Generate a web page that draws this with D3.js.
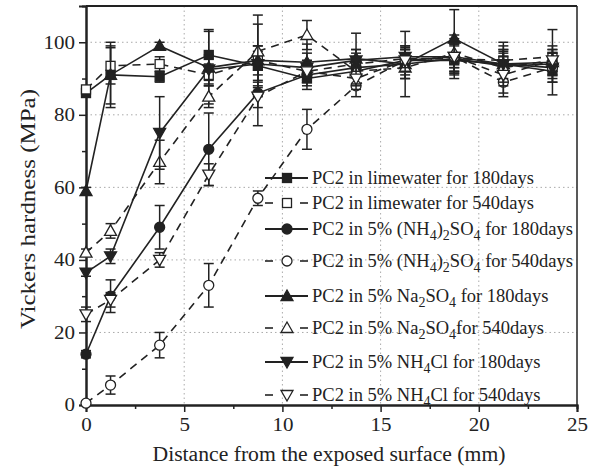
<!DOCTYPE html>
<html><head><meta charset="utf-8">
<script src="https://cdn.jsdelivr.net/npm/d3@7"></script>
<style>body{margin:0;background:#fff}svg{display:block}text{font-family:"Liberation Serif","Times New Roman",serif;fill:#222}</style>
</head><body><svg id="c" width="596" height="468"></svg>
<script>
const xVals = [0, 1.25, 3.75, 6.25, 8.75, 11.25, 13.75, 16.25, 18.75, 21.25, 23.75];
const lime180 = [86, 91, 90.5, 96.5, 93.5, 90, 92, 95, 95, 94, 92];
const lime180Err = [1, 9, 1.5, 7, 4, 3, 4, 3, 5, 5, 3];
const lime540 = [87, 93.5, 94, 91, 95, 92, 94, 95.5, 95.5, 95, 96];
const lime540Err = [1, 5, 2, 3, 4, 3, 3, 3, 4, 3, 3];
const amSul180 = [14, 30, 49, 70.5, 86, 91, 93, 94, 95.5, 93.5, 94];
const amSul180Err = [1, 4.5, 6, 10, 9, 3, 5, 4, 4, 4, 3];
const amSul540 = [0.5, 5.5, 16.5, 33, 57, 76, 88, 95, 96, 89, 93];
const amSul540Err = [0.5, 2.5, 3.5, 6, 2, 5.5, 3, 4, 5, 4, 3];
const na180 = [59, 91, 99, 93, 95, 94.5, 95.5, 94, 101, 94, 94.5];
const na180Err = [1, 8, 1, 10, 10, 5, 7, 9, 8, 6, 9];
const na540 = [42, 48, 67, 85, 97.5, 102, 92, 93, 97, 93, 95];
const na540Err = [1, 2, 6, 3, 10, 4, 4, 3, 5, 4, 3];
const cl180 = [36.5, 41, 75, 92.5, 94, 93, 95, 96, 96, 94, 93];
const cl180Err = [1, 2, 10, 4, 5, 4, 3, 3, 3, 4, 4];
const cl540 = [25, 29, 40, 63.5, 85, 92, 90, 95, 96, 91, 95];
const cl540Err = [2, 2, 2, 3, 3, 3, 3, 3, 4, 5, 3];
const xTicks = [0, 5, 10, 15, 20, 25];
const yTicks = [0, 20, 40, 60, 80, 100];

// legend label parts: [text, isSub]
const series = [
  {v: lime180, e: lime180Err, dash: false, m: "square", fill: true,
   label: [["PC2 in limewater for 180days",0]]},
  {v: lime540, e: lime540Err, dash: true, m: "square", fill: false,
   label: [["PC2 in limewater for 540days",0]]},
  {v: amSul180, e: amSul180Err, dash: false, m: "circle", fill: true,
   label: [["PC2 in 5% (NH",0],["4",1],[")",0],["2",1],["SO",0],["4",1],[" for 180days",0]]},
  {v: amSul540, e: amSul540Err, dash: true, m: "circle", fill: false,
   label: [["PC2 in 5% (NH",0],["4",1],[")",0],["2",1],["SO",0],["4",1],[" for 540days",0]]},
  {v: na180, e: na180Err, dash: false, m: "up", fill: true,
   label: [["PC2 in 5% Na",0],["2",1],["SO",0],["4",1],[" for 180days",0]]},
  {v: na540, e: na540Err, dash: true, m: "up", fill: false,
   label: [["PC2 in 5% Na",0],["2",1],["SO",0],["4",1],["for 540days",0]]},
  {v: cl180, e: cl180Err, dash: false, m: "down", fill: true,
   label: [["PC2 in 5% NH",0],["4",1],["Cl for 180days",0]]},
  {v: cl540, e: cl540Err, dash: true, m: "down", fill: false,
   label: [["PC2 in 5% NH",0],["4",1],["Cl for 540days",0]]}
];
const legendY = [178, 203, 229, 261, 296, 328, 362, 395];

const W = 596, H = 468;
const m = {l: 86, r: 577, t: 6, b: 405};
const svg = d3.select("#c");
const x = d3.scaleLinear().domain([0, 25]).range([m.l, m.r]);
const y = d3.scaleLinear().domain([0, 110]).range([m.b, m.t]);
const ink = "#222";

// grid
const grid = svg.append("g").attr("stroke", "#aaa").attr("stroke-width", 1).attr("stroke-dasharray", "1.5,3");
[20, 40, 60, 80, 100].forEach(v => grid.append("line").attr("x1", m.l).attr("x2", m.r).attr("y1", y(v)).attr("y2", y(v)));
[5, 10, 15, 20].forEach(v => grid.append("line").attr("y1", m.t).attr("y2", m.b).attr("x1", x(v)).attr("x2", x(v)));

// axes
const xAxis = svg.append("g").attr("transform", `translate(0,${m.b})`)
  .call(d3.axisBottom(x).tickValues(xTicks).tickSize(7).tickPadding(6).tickFormat(d3.format("d")));
const xMinor = svg.append("g").attr("transform", `translate(0,${m.b})`)
  .call(d3.axisBottom(x).tickValues([2.5, 7.5, 12.5, 17.5, 22.5]).tickSize(4).tickFormat(""));
const yAxis = svg.append("g").attr("transform", `translate(${m.l},0)`)
  .call(d3.axisLeft(y).tickValues(yTicks).tickSize(7).tickPadding(4).tickFormat(d3.format("d")));
const yMinor = svg.append("g").attr("transform", `translate(${m.l},0)`)
  .call(d3.axisLeft(y).tickValues([10, 30, 50, 70, 90]).tickSize(4).tickFormat(""));
[xAxis, xMinor, yAxis, yMinor].forEach(g => {
  g.selectAll("path").attr("stroke", ink).attr("stroke-width", 2);
  g.selectAll("line").attr("stroke", ink).attr("stroke-width", 1.5);
  g.selectAll("text").attr("font-size", 18).attr("fill", ink)
    .attr("font-family", "Liberation Serif, serif")
    .each(function(){ const t = d3.select(this); const n = t.text().length; t.attr("textLength", n * 10.5).attr("lengthAdjust", "spacingAndGlyphs"); });
});
// frame top/right
svg.append("line").attr("x1", m.l).attr("x2", m.r).attr("y1", m.t).attr("y2", m.t).attr("stroke", ink).attr("stroke-width", 2);
svg.append("line").attr("x1", m.r).attr("x2", m.r).attr("y1", m.t).attr("y2", m.b).attr("stroke", ink).attr("stroke-width", 1.5);

// symbols
function drawMarker(g, type, cx, cy, fill) {
  const f = fill ? ink : "#fff";
  let el;
  if (type === "square") el = g.append("rect").attr("x", cx - 4.5).attr("y", cy - 4.5).attr("width", 9).attr("height", 9);
  else if (type === "circle") el = g.append("circle").attr("cx", cx).attr("cy", cy).attr("r", 5);
  else if (type === "up") el = g.append("path").attr("d", `M${cx},${cy-6}L${cx+6},${cy+4.5}L${cx-6},${cy+4.5}Z`);
  else el = g.append("path").attr("d", `M${cx},${cy+6}L${cx+6},${cy-4.5}L${cx-6},${cy-4.5}Z`);
  el.attr("fill", f).attr("stroke", ink).attr("stroke-width", 1.3);
}

const line = d3.line().x((d, i) => x(xVals[i])).y(d => y(d));
const plot = svg.append("g");
series.forEach(s => {
  plot.append("path").datum(s.v).attr("d", line).attr("fill", "none")
    .attr("stroke", ink).attr("stroke-width", 1.6)
    .attr("stroke-dasharray", s.dash ? "8,6" : null);
});
series.forEach(s => {
  const g = plot.append("g").attr("stroke", ink).attr("stroke-width", 1.5);
  s.v.forEach((v, i) => {
    const cx = x(xVals[i]), e = s.e[i];
    const y1 = y(v + e), y2 = y(v - e);
    g.append("line").attr("x1", cx).attr("x2", cx).attr("y1", y1).attr("y2", y2);
    g.append("line").attr("x1", cx - 5).attr("x2", cx + 5).attr("y1", y1).attr("y2", y1);
    g.append("line").attr("x1", cx - 5).attr("x2", cx + 5).attr("y1", y2).attr("y2", y2);
  });
  const mg = plot.append("g");
  s.v.forEach((v, i) => drawMarker(mg, s.m, x(xVals[i]), y(v), s.fill));
});

// legend
const leg = svg.append("g");
series.forEach((s, i) => {
  const ly = legendY[i];
  const g = leg.append("g");
  if (s.dash) {
    g.append("line").attr("x1", 265).attr("x2", 273).attr("y1", ly).attr("y2", ly).attr("stroke", ink).attr("stroke-width", 1.6);
    g.append("line").attr("x1", 300).attr("x2", 308).attr("y1", ly).attr("y2", ly).attr("stroke", ink).attr("stroke-width", 1.6);
  } else {
    g.append("line").attr("x1", 265).attr("x2", 308).attr("y1", ly).attr("y2", ly).attr("stroke", ink).attr("stroke-width", 2);
  }
  drawMarker(g, s.m, 287, ly, s.fill);
  const t = g.append("text").attr("x", 312).attr("y", ly + 6).attr("font-size", 18.5);
  let prevSub = false;
  s.label.forEach(([txt, sub]) => {
    const ts = t.append("tspan").text(txt);
    if (sub) ts.attr("font-size", 14);
    if (sub && !prevSub) ts.attr("dy", 5);
    else if (!sub && prevSub) ts.attr("dy", -5);
    else ts.attr("dy", 0);
    prevSub = !!sub;
  });
});

// axis titles
svg.append("text").attr("x", 329).attr("y", 461).attr("text-anchor", "middle").attr("font-size", 20)
  .attr("textLength", 353).attr("lengthAdjust", "spacingAndGlyphs")
  .text("Distance from the exposed surface (mm)");
svg.append("text").attr("transform", "translate(35,209) rotate(-90)").attr("text-anchor", "middle").attr("font-size", 20)
  .attr("textLength", 240).attr("lengthAdjust", "spacingAndGlyphs")
  .text("Vickers hardness (MPa)");
</script></body></html>
